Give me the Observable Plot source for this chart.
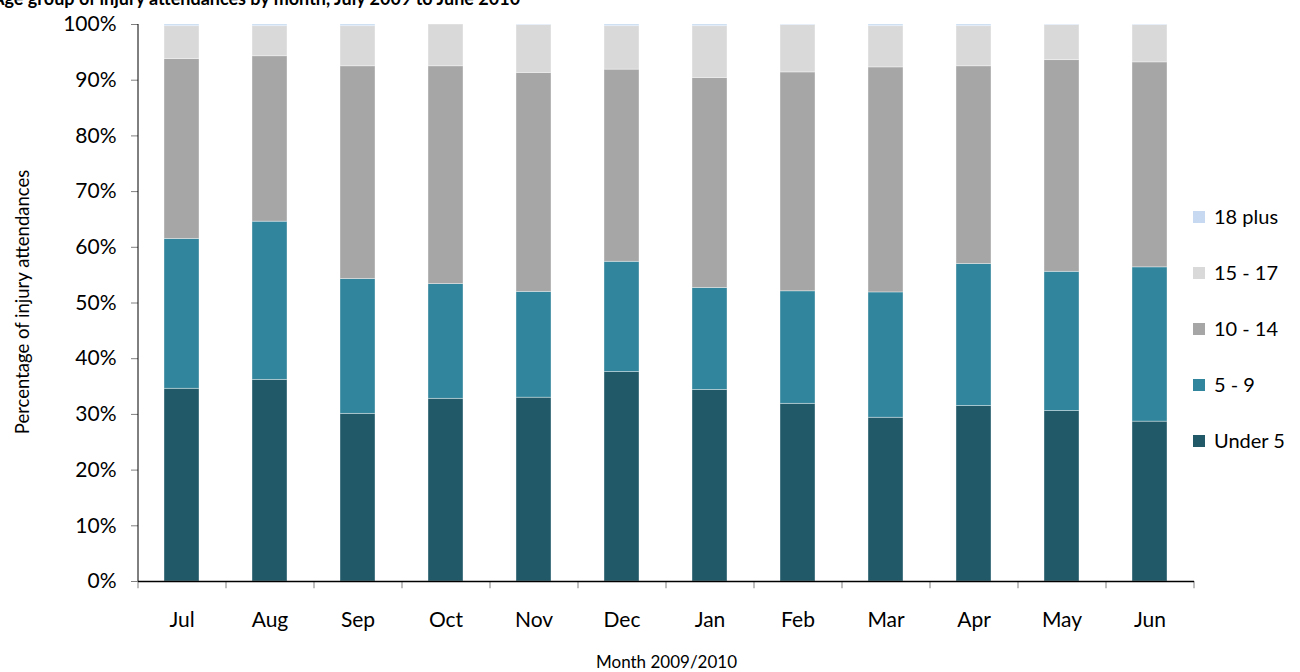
<!DOCTYPE html>
<html>
<head>
<meta charset="utf-8">
<script src="https://cdn.jsdelivr.net/npm/d3@7"></script>
<script src="https://cdn.jsdelivr.net/npm/@observablehq/plot@0.6"></script>
<style>
  body { margin: 0; background: #fff; font-family: Lato, "Open Sans", sans-serif; }
  #wrap { position: relative; width: 1300px; height: 672px; overflow: hidden; }
  #title { height: 9px; overflow: hidden; position: relative; }
  #title span { position: absolute; left: -8px; top: -13px; font-weight: bold; font-size: 18px; white-space: nowrap; color: #000; }
  #legend { position: absolute; left: 1193px; top: 204px; font-size: 20px; color: #000; }
  .item { height: 56px; display: flex; align-items: flex-start; }
  .sw { width: 12px; height: 12px; margin-top: 7px; margin-right: 9px; }
  #ylabel { position: absolute; left: 22px; top: 302px; transform: translate(-50%, -50%) rotate(-90deg); font-size: 18.5px; white-space: nowrap; color: #000; }
</style>
</head>
<body>
<div id="wrap">
  <div id="title"><span>Age group of injury attendances by month, July 2009 to June 2010</span></div>
  <div id="chart"></div>
  <div id="legend"></div>
  <div id="ylabel">Percentage of injury attendances</div>
</div>
<script>
const months = ["Jul","Aug","Sep","Oct","Nov","Dec","Jan","Feb","Mar","Apr","May","Jun"];
const groups = ["Under 5","5 - 9","10 - 14","15 - 17","18 plus"];
const colors = ["#215968","#31859c","#a6a6a6","#d9d9d9","#c6d9f1"];
const under5   = [34.6,36.2,30.1,32.8,33.0,37.6,34.4,31.9,29.4,31.5,30.6,28.7];
const age5to9  = [26.9,28.4,24.2,20.6,19.0,19.8,18.3,20.2,22.5,25.5,25.0,27.7];
const age10to14= [32.3,29.7,38.2,39.1,39.3,34.5,37.7,39.3,40.4,35.5,38.0,36.8];
const age15to17= [5.9,5.4,7.2,7.5,8.6,7.8,9.3,8.5,7.4,7.2,6.3,6.7];
const age18plus= [0.3,0.3,0.3,0.0,0.1,0.3,0.3,0.1,0.3,0.3,0.1,0.1];
const yTicks = [0,10,20,30,40,50,60,70,80,90,100];

const series = [under5, age5to9, age10to14, age15to17, age18plus];
const data = [];
months.forEach((m, i) => {
  groups.forEach((g, j) => data.push({month: m, group: g, value: series[j][i]}));
});

const step = (1300 - 138 - 106) / months.length;

const plot = Plot.plot({
  width: 1300,
  height: 663,
  marginTop: 15,
  marginBottom: 91,
  marginLeft: 138,
  marginRight: 106,
  style: {fontFamily: "Lato, 'Open Sans', sans-serif", fontSize: "21px", color: "#000", background: "#fff"},
  x: {domain: months, paddingInner: 0.6, paddingOuter: 0.3},
  y: {domain: [0, 100]},
  color: {domain: groups, range: colors},
  marks: [
    Plot.barY(data, Plot.stackY({x: "month", y: "value", fill: "group", order: groups,
      stroke: "#ffffff", strokeOpacity: 0.45, strokeWidth: 0.8})),
    Plot.axisY({ticks: yTicks, tickFormat: d => d + "%", tickSize: 7, tickPadding: 15,
      stroke: "#808080", fontSize: 21, label: null}),
    Plot.axisX({tickSize: 0, tickPadding: 31, fontSize: 21, label: null}),
    Plot.axisX({tickSize: 0, tickFormat: () => "", label: "Month 2009/2010",
      labelAnchor: "center", labelOffset: 86, fontSize: 17}),
    Plot.ruleX(months, {x: d => d, y1: 0, y2: -1.3, dx: -step / 2, stroke: "#808080"}),
    Plot.ruleX([months[months.length - 1]], {x: d => d, y1: 0, y2: -1.3, dx: step / 2, stroke: "#808080"}),
    Plot.ruleX([months[0]], {x: d => d, y1: 0, y2: 100, dx: -step / 2, stroke: "#000"}),
    Plot.ruleY([0], {stroke: "#000", strokeWidth: 1.5})
  ]
});
document.getElementById("chart").appendChild(plot);

const legend = document.getElementById("legend");
groups.slice().reverse().forEach(g => {
  const idx = groups.indexOf(g);
  const it = document.createElement("div");
  it.className = "item";
  const sw = document.createElement("div");
  sw.className = "sw";
  sw.style.background = colors[idx];
  const tx = document.createElement("span");
  tx.textContent = g;
  it.appendChild(sw); it.appendChild(tx);
  legend.appendChild(it);
});
</script>
</body>
</html>
